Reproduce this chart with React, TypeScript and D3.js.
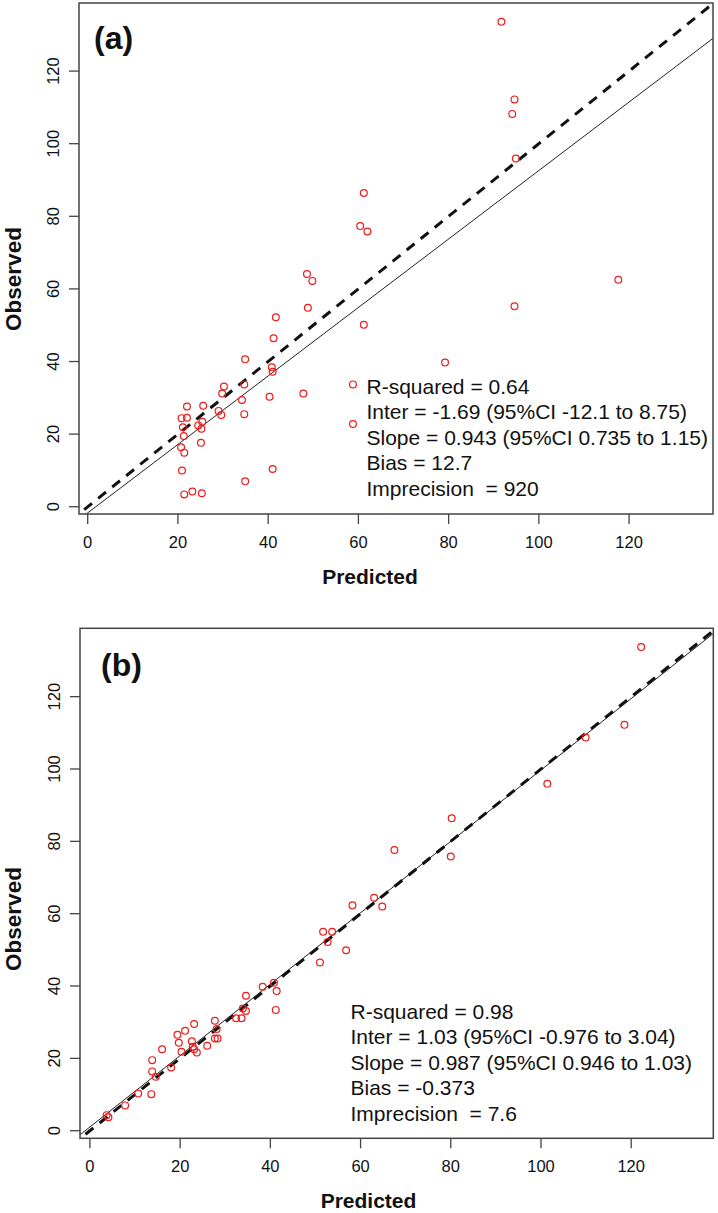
import React from "react";
import * as d3 from "d3";

// ---------- data ----------
const panelLabels = ["(a)", "(b)"];
const xTicks = [0, 20, 40, 60, 80, 100, 120];
const yTicks = [0, 20, 40, 60, 80, 100, 120];

const predictedA = [48.6, 49.8, 60.4, 61.2, 62.0, 91.7, 94.6, 94.1, 94.9, 117.6, 94.6, 61.2, 79.2, 58.8, 58.8, 48.8, 41.7, 41.2, 34.9, 40.8, 41.0, 34.7, 40.3, 47.8, 30.2, 29.8, 34.2, 29.0, 29.6, 34.7, 25.6, 22.0, 20.8, 22.0, 24.5, 25.4, 25.2, 21.1, 21.3, 25.1, 20.7, 21.4, 20.9, 41.0, 34.9, 21.4, 23.2, 25.3];
const observedA = [64.1, 62.2, 77.3, 86.4, 75.8, 133.6, 112.2, 108.2, 95.9, 62.5, 55.2, 50.1, 39.7, 33.7, 22.8, 54.8, 52.2, 46.4, 40.6, 38.4, 37.2, 33.7, 30.3, 31.2, 33.1, 31.2, 29.4, 26.4, 25.3, 25.5, 27.8, 27.6, 24.4, 24.5, 22.4, 23.4, 21.5, 21.9, 19.5, 17.6, 16.4, 14.9, 10.0, 10.4, 7.0, 3.4, 4.2, 3.7];

const predictedB = [122.2, 118.5, 109.9, 101.4, 80.2, 67.5, 80.0, 63.0, 58.2, 64.8, 56.8, 51.7, 53.7, 52.7, 51.0, 38.3, 40.8, 41.4, 41.2, 34.6, 34.6, 33.9, 33.6, 32.4, 27.7, 28.1, 27.7, 28.3, 26.0, 23.1, 21.1, 19.4, 19.7, 22.6, 22.8, 23.1, 23.7, 20.3, 16.0, 13.8, 13.8, 14.6, 18.0, 10.7, 13.6, 7.8, 3.7, 4.1];
const observedB = [133.7, 112.2, 108.7, 95.9, 86.4, 77.6, 75.8, 64.4, 62.3, 62.0, 49.9, 55.0, 55.0, 52.2, 46.5, 39.8, 40.9, 38.6, 33.4, 37.3, 33.1, 33.8, 31.1, 31.1, 30.4, 28.1, 25.5, 25.5, 23.5, 29.5, 27.6, 26.5, 24.3, 24.7, 23.2, 22.5, 21.6, 21.8, 22.5, 19.5, 16.4, 14.9, 17.5, 10.3, 10.1, 7.0, 4.3, 3.7];

const interceptA = -1.69;
const slopeA = 0.943;
const interceptB = 1.03;
const slopeB = 0.987;

const statsA = [
  "R-squared = 0.64",
  "Inter = -1.69 (95%CI -12.1 to 8.75)",
  "Slope = 0.943 (95%CI 0.735 to 1.15)",
  "Bias = 12.7",
  "Imprecision  = 920",
];
const statsB = [
  "R-squared = 0.98",
  "Inter = 1.03 (95%CI -0.976 to 3.04)",
  "Slope = 0.987 (95%CI 0.946 to 1.03)",
  "Bias = -0.373",
  "Imprecision  = 7.6",
];

const FONT = "'Liberation Sans', Arial, Helvetica, sans-serif";

type PanelProps = {
  id: string;
  label: string;
  xs: number[];
  ys: number[];
  inter: number;
  slope: number;
  stats: string[];
  xDomain: [number, number];
  yDomain: [number, number];
  left: number;
  right: number;
  top: number;
  bottom: number;
  statsX: number;
  statsY: number;
  labelX: number;
  labelY: number;
  predX: number;
  predY: number;
  obsY: number;
};

function Panel(p: PanelProps) {
  const x = d3.scaleLinear().domain(p.xDomain).range([p.left, p.right]);
  const y = d3.scaleLinear().domain(p.yDomain).range([p.bottom, p.top]);
  const lo = Math.min(p.xDomain[0], p.yDomain[0]) - 5;
  const hi = Math.max(p.xDomain[1], p.yDomain[1]) + 5;
  const line = d3
    .line<number>()
    .x((v) => x(v))
    .y((v) => y(v));
  const reg = d3
    .line<number>()
    .x((v) => x(v))
    .y((v) => y(p.inter + p.slope * v));
  const tickLen = 10;
  return (
    <g>
      <defs>
        <clipPath id={"clip-" + p.id}>
          <rect x={p.left} y={p.top} width={p.right - p.left} height={p.bottom - p.top} />
        </clipPath>
      </defs>
      <g clipPath={`url(#clip-${p.id})`}>
        <path d={reg([lo, hi]) || ""} stroke="#222" strokeWidth={1} fill="none" />
        <path d={line([lo, hi]) || ""} stroke="#111" strokeWidth={3} strokeDasharray="10,8" fill="none" />
        {p.xs.map((v, i) => (
          <circle key={i} cx={x(v)} cy={y(p.ys[i])} r={3.4} fill="none" stroke="#f01a1a" strokeWidth={1.2} />
        ))}
      </g>
      <rect x={p.left} y={p.top} width={p.right - p.left} height={p.bottom - p.top} fill="none" stroke="#444" strokeWidth={1.5} />
      {xTicks.map((t) => (
        <g key={"x" + t}>
          <line x1={x(t)} x2={x(t)} y1={p.bottom} y2={p.bottom + tickLen} stroke="#444" strokeWidth={1.3} />
          <text x={x(t)} y={p.bottom + 34} textAnchor="middle" fontSize={16.5} fontFamily={FONT} fill="#111">
            {t}
          </text>
        </g>
      ))}
      {yTicks.map((t) => (
        <g key={"y" + t}>
          <line x1={p.left - tickLen} x2={p.left} y1={y(t)} y2={y(t)} stroke="#444" strokeWidth={1.3} />
          <text
            transform={`translate(${p.left - 20},${y(t)}) rotate(-90)`}
            textAnchor="middle"
            fontSize={16.5}
            fontFamily={FONT}
            fill="#111"
          >
            {t}
          </text>
        </g>
      ))}
      <text x={p.predX} y={p.predY} textAnchor="middle" fontSize={21} fontWeight="bold" fontFamily={FONT} fill="#111">
        Predicted
      </text>
      <text
        transform={`translate(21,${p.obsY}) rotate(-90)`}
        textAnchor="middle"
        fontSize={22.5}
        fontWeight="bold"
        fontFamily={FONT}
        fill="#111"
      >
        Observed
      </text>
      <text x={p.labelX} y={p.labelY} fontSize={32} fontWeight="bold" fontFamily={FONT} fill="#111">
        {p.label}
      </text>
      {p.stats.map((s, i) => (
        <text
          key={i}
          x={p.statsX}
          y={p.statsY + i * 25.4}
          fontSize={21}
          fontFamily={FONT}
          fill="#111"
          style={{ whiteSpace: "pre" }}
        >
          {s}
        </text>
      ))}
    </g>
  );
}

export default function App() {
  return (
    <svg
      width={718}
      height={1213}
      style={{ position: "absolute", left: 0, top: 0, background: "#fff" }}
    >
      <rect x={0} y={0} width={718} height={1213} fill="#fff" />
      <Panel
        id="a"
        label={panelLabels[0]}
        xs={predictedA}
        ys={observedA}
        inter={interceptA}
        slope={slopeA}
        stats={statsA}
        xDomain={[-1.93, 138.6]}
        yDomain={[-2.0, 138.75]}
        left={79}
        right={713}
        top={3}
        bottom={514}
        statsX={366.5}
        statsY={394}
        labelX={94}
        labelY={48.5}
        predX={370}
        predY={584}
        obsY={279}
      />
      <Panel
        id="b"
        label={panelLabels[1]}
        xs={predictedB}
        ys={observedB}
        inter={interceptB}
        slope={slopeB}
        stats={statsB}
        xDomain={[-2.2, 138.2]}
        yDomain={[-2.1, 138.9]}
        left={80}
        right={713.3}
        top={628.3}
        bottom={1138.3}
        statsX={350.5}
        statsY={1019}
        labelX={101}
        labelY={676}
        predX={368.5}
        predY={1208}
        obsY={919}
      />
    </svg>
  );
}
